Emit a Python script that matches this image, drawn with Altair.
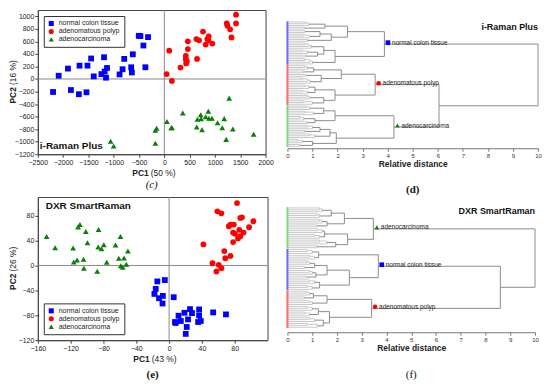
import altair as alt
import pandas as pd

GROUPS = ["normal colon tissue", "adenomatous polyp", "adenocarcinoma"]
COLORS = ["#0000ff", "#ff0000", "#0a800a"]
BAR_COLORS = ["#6a6aff", "#ff6a6a", "#7fd67f"]
SHAPES = ["square", "circle", "triangle-up"]

# ---- (c) i-Raman Plus PCA scores ----
C_N_X = [-2199, -2088, -1905, -1846, -1676, -1689, -1519, -1539, -1447, -1395, -1244, -1192, -1179,
         -1153, -1133, -885, -826, -793, -655, -642, -623, -505, -473, -414, -375, -322]
C_N_Y = [-207, 52, 166, -176, 213, -243, 213, -212, 327, 42, 78, 347, 119,
         21, 176, 73, 156, 321, 187, 104, 394, 689, 684, 534, 187, 668]
C_P_X = [44, 149, 96, 319, 424, 424, 431, 444, 464, 464, 633, 646, 686, 764, 817, 850, 876, 869,
         948, 1234, 1248, 1300, 1326, 1417, 1417]
C_P_Y = [78, -31, 451, 182, 368, 316, 249, 285, 477, 601, 637, 321, 617, 757, 549, 637, 679, 617,
         565, 886, 850, 793, 663, 1026, 886]
C_A_X = [-1061, -1002, -178, -152, -178, 51, 136, 149, 365, 640, 653, 719, 725, 745, 817, 869, 882,
         941, 1052, 1183, 1144, 1222, 1281, 1353, 1764]
C_A_Y = [-994, -1067, -818, -787, -1025, -678, -782, -772, -544, -766, -642, -570, -632, -808, -601,
         -513, -627, -627, -699, -632, -777, -963, -305, -798, -880]

# ---- (e) DXR SmartRaman PCA scores ----
E_N_X = [-14.3, -5.2, -16.3, -17.9, -12.3, -7.6, -8.0, 5.6, 7.2, 8.0, 11.5, 14.3, 18.7, 21.5, 23.1,
         20.3, 25.5, 27.9, 35.4, 36.6, 36.6, 38.6, 53.7, 69.3]
E_N_Y = [-25.6, -23.4, -37.6, -45.7, -52.6, -48.9, -61.1, -51.0, -90.8, -92.4, -80.7, -89.2, -76.0,
         -98.8, -86.6, -109.9, -70.1, -76.5, -90.8, -70.6, -80.2, -89.2, -75.4, -78.6]
E_P_X = [82.8, 58.9, 63.7, 88.8, 86.8, 102.7, 74.8, 78.8, 72.8, 97.5, 85.6, 78.0, 90.7, 80.4, 86.8,
         84.0, 78.0, 41.8, 67.3, 74.8, 68.5, 52.9, 60.5, 63.7, 57.7]
E_P_Y = [100.2, 86.9, 83.7, 77.3, 76.3, 71.0, 65.7, 65.7, 63.0, 61.4, 57.2, 52.9, 52.9, 50.8, 47.1,
         43.4, 37.6, 33.8, 23.2, 15.3, 11.6, 3.6, 1.0, -4.4, -9.7]
E_A_X = [-149.3, -138.9, -117.0, -116.2, -112.2, -104.3, -103.9, -108.7, -111.0, -101.5, -99.5, -86.0,
         -86.4, -82.4, -79.6, -76.0, -87.6, -65.3, -61.3, -59.3, -58.9, -56.5, -54.9, -52.1, -50.2]
E_A_Y = [46.6, 28.5, 28.0, 5.7, 8.9, 10.0, -4.3, 65.7, 62.0, 54.5, 36.5, 57.7, 29.6, 27.0, 33.3, 5.2,
         -9.1, 32.8, 11.6, 46.6, -0.6, -2.8, 12.1, 2.0, 23.2]

# ---- dendrograms: (height, child, child) = merge, [h1, h2, ...] = chained leaves ----
D_TREES = {
    "normal colon tissue": (3.87,
        (2.4, (1.5, [0.75, 0.85], [0.7]), (1.75, (1.3, [0.7], [0.65, 0.9]), [0.8])),
        (1.9, (1.45, [0.7, 0.85, 0.95], (1.2, [0.6, 0.8], [0.75])), [0.7, 0.9, 1.0])),
    "adenomatous polyp": (3.5,
        (2.15, (1.05, [0.7, 0.8], [0.65]), (1.35, [0.75], [0.6, 0.8, 0.9])),
        (1.9, (1.1, [0.7, 0.85], [0.6, 0.8]), (1.45, [0.8, 0.9], [0.65, 1.0]))),
    "adenocarcinoma": (4.25,
        (1.9, (1.45, [0.75, 0.9], [0.7, 1.05]), (1.1, [0.5, 0.65], [0.8])),
        (1.95, (1.7, (1.3, [0.8, 1.0], [0.7]), [0.9, 1.1]), (1.0, [0.4, 0.6], [0.5]))),
}
D_ROOT = (10.0, "normal colon tissue", (6.05, "adenomatous polyp", "adenocarcinoma"))

F_TREES = {
    "adenocarcinoma": (3.47,
        (2.3, (1.77, [1.3, 1.4], [1.2, 1.3]), (1.6, [1.3, 1.4], [1.2])),
        (2.43, (1.5, [1.2, 1.4], [1.1, 1.3]), (1.95, [1.3, 1.6], [1.2]))),
    "normal colon tissue": (3.67,
        (1.26, [0.8, 1.0], [0.9, 1.1]),
        (2.5, (1.6, (1.1, [0.8, 0.9], [0.7]), (1.15, [0.9, 1.0], [0.8])),
         (1.3, [0.9, 1.1], [0.8, 1.0]))),
    "adenomatous polyp": (3.4,
        (1.6, (1.05, [0.8, 0.9], [0.7]), [0.9, 1.0]),
        (1.7, (1.25, [0.8, 1.0], [0.7, 0.9]), (1.45, [0.9, 1.1], [0.8, 1.2]))),
}
F_ROOT = (10.0, "adenocarcinoma", (8.6, "normal colon tissue", "adenomatous polyp"))

FONT = "Liberation Sans"
ONE = pd.DataFrame({"a": [0]})


def scatter_df(nx, ny, px, py, ax, ay):
    rows = []
    for g, xs, ys in zip(GROUPS, [nx, px, ax], [ny, py, ay]):
        for x, y in zip(xs, ys):
            rows.append({"pc1": x, "pc2": y, "group": g})
    return pd.DataFrame(rows)


def scatter(df, xdom, xticks, ydom, yticks, W, H, lorient, pc1, pc2, inst, inst_xy, inst_align, caption,
            cap_style, cap_weight, cap_offset):
    xs = alt.Scale(domain=xdom, nice=False, zero=False)
    ys = alt.Scale(domain=ydom, nice=False, zero=False)
    ax_common = dict(title=None, labelFontSize=7, labelFont=FONT, tickSize=3, labelColor="#222",
                     domainColor="#444", tickColor="#444", grid=False, labelPadding=1,
                     labelOverlap=False, labelFlush=False, format="d")
    leg = alt.Legend(title=None, orient=lorient, offset=6, fillColor="white",
                     strokeColor="#333", padding=4, labelFontSize=7, labelFont=FONT,
                     symbolSize=26, rowPadding=0, labelColor="#222")
    zx = alt.Chart(ONE).mark_rule(color="#8a8a8a", strokeWidth=1).encode(
        x=alt.datum(0, scale=xs, axis=alt.Axis(values=xticks, **ax_common)))
    zy = alt.Chart(ONE).mark_rule(color="#8a8a8a", strokeWidth=1).encode(
        y=alt.datum(0, scale=ys, axis=alt.Axis(values=yticks, **ax_common)))
    pts = alt.Chart(df).mark_point(filled=True, size=34, opacity=1).encode(
        x=alt.X("pc1:Q", scale=xs, axis=alt.Axis(values=xticks, **ax_common)),
        y=alt.Y("pc2:Q", scale=ys, axis=alt.Axis(values=yticks, **ax_common)),
        color=alt.Color("group:N", scale=alt.Scale(domain=GROUPS, range=COLORS), legend=leg),
        shape=alt.Shape("group:N", scale=alt.Scale(domain=GROUPS, range=SHAPES), legend=leg),
    )
    t1 = alt.Chart(ONE).mark_text(text=pc1[0], fontWeight="bold", fontSize=8.5, font=FONT, align="right",
                                  baseline="middle", color="#222").encode(
        x=alt.value(W / 2 - 3), y=alt.value(H + 19))
    t2 = alt.Chart(ONE).mark_text(text=pc1[1], fontSize=8.5, font=FONT, align="left",
                                  baseline="middle", color="#222").encode(
        x=alt.value(W / 2 - 1), y=alt.value(H + 19))
    t3 = alt.Chart(ONE).mark_text(text=pc2[0], fontWeight="bold", fontSize=8.5, font=FONT, align="right",
                                  baseline="middle", angle=270, color="#222").encode(
        x=alt.value(-25), y=alt.value(H / 2 + 5))
    t4 = alt.Chart(ONE).mark_text(text=pc2[1], fontSize=8.5, font=FONT, align="left",
                                  baseline="middle", angle=270, color="#222").encode(
        x=alt.value(-25), y=alt.value(H / 2 + 3))
    t5 = alt.Chart(ONE).mark_text(text=inst, fontWeight="bold", fontSize=10, font=FONT, align=inst_align,
                                  baseline="middle", color="#111").encode(
        x=alt.value(inst_xy[0]), y=alt.value(inst_xy[1]))
    return alt.layer(zx, zy, pts, t1, t2, t3, t4, t5).properties(
        width=W, height=H,
        title=alt.TitleParams(caption, orient="bottom", font="Liberation Serif", fontSize=11,
                              fontStyle=cap_style, fontWeight=cap_weight, offset=cap_offset, color="#111"),
        view=alt.ViewBackground(stroke="#444"),
    )


def build_dendro(root, trees):
    leaves, segs, nodes = [], [], {}

    def walk(node, group):
        if isinstance(node, str):
            res = walk(trees[node], node)
            nodes[node] = res
            return res
        if isinstance(node, list):
            leaves.append(group)
            prev = (0.0, len(leaves) - 1)
            for h in node:
                leaves.append(group)
                ly = len(leaves) - 1
                segs.append((prev[0], h, prev[1], prev[1], "#c9c9c9"))
                segs.append((0.0, h, ly, ly, "#c9c9c9"))
                segs.append((h, h, prev[1], ly, "#c9c9c9"))
                prev = (h, (prev[1] + ly) / 2)
            return prev
        h, a, b = node
        ra = walk(a, group)
        rb = walk(b, group)
        segs.append((ra[0], h, ra[1], ra[1], "#8c8c8c"))
        segs.append((rb[0], h, rb[1], rb[1], "#8c8c8c"))
        segs.append((h, h, ra[1], rb[1], "#8c8c8c"))
        return (h, (ra[1] + rb[1]) / 2)

    walk(root, None)
    return leaves, segs, nodes


def dendro(root, trees, W, H, lead_top, lead_bot, title_text, title_y, caption, cap_weight, cap_offset):
    leaves, segs, nodes = build_dendro(root, trees)
    n = len(leaves)
    step = (lead_bot - lead_top) / (n - 1)
    ys = alt.Scale(domain=[-lead_top / step, (n - 1) + (H - lead_bot) / step], reverse=True, nice=False,
                   zero=False)
    xs = alt.Scale(domain=[0, 10], nice=False, zero=False)
    xaxis = alt.Axis(values=list(range(11)), title="Relative distance",
                     titleFontWeight="bold", titleFontSize=8.5, titleFont=FONT,
                     labelFontSize=6, labelFont=FONT, tickSize=3,
                     labelPadding=1, titlePadding=1, domainColor="#777",
                     tickColor="#777", labelColor="#333", titleColor="#222",
                     grid=False, labelOverlap=False, labelFlush=False)
    seg_df = pd.DataFrame(segs, columns=["x", "x2", "y", "y2", "col"])
    bars = []
    for g, c in zip(GROUPS, BAR_COLORS):
        idx = [i for i, lg in enumerate(leaves) if lg == g]
        bars.append({"x": 0, "y": min(idx) - 0.4, "y2": max(idx) + 0.4, "col": c})
    bar_df = pd.DataFrame(bars)
    lab = []
    for g, c, s in zip(GROUPS, COLORS, SHAPES):
        h, y = nodes[g]
        lab.append({"x": h + 0.14, "y": y - 0.8, "col": c, "shape": s, "text": g})
    lab_df = pd.DataFrame(lab)

    lines = alt.Chart(seg_df).mark_rule(strokeWidth=1).encode(
        x=alt.X("x:Q", scale=xs, axis=xaxis),
        x2="x2:Q",
        y=alt.Y("y:Q", scale=ys, axis=None),
        y2="y2:Q",
        color=alt.Color("col:N", scale=None, legend=None),
    )
    barl = alt.Chart(bar_df).mark_rule(strokeWidth=2).encode(
        x=alt.X("x:Q", axis=xaxis), y=alt.Y("y:Q", axis=None), y2="y2:Q",
        color=alt.Color("col:N", scale=None, legend=None))
    mk = alt.Chart(lab_df).mark_point(filled=True, size=22, opacity=1).encode(
        x=alt.X("x:Q", axis=xaxis), y=alt.Y("y:Q", axis=None), color=alt.Color("col:N", scale=None, legend=None),
        shape=alt.Shape("shape:N", scale=None, legend=None))
    tx = alt.Chart(lab_df).mark_text(align="left", baseline="middle", dx=4, fontSize=6.5, font=FONT,
                                     color="#222").encode(x=alt.X("x:Q", axis=xaxis),
                                                          y=alt.Y("y:Q", axis=None), text="text:N")
    tt = alt.Chart(ONE).mark_text(text=title_text, fontWeight="bold", fontSize=9, font=FONT, align="right",
                                  baseline="middle", color="#111").encode(
        x=alt.value(W), y=alt.value(title_y))
    return alt.layer(lines, barl, mk, tx, tt).properties(
        width=W, height=H,
        title=alt.TitleParams(caption, orient="bottom", font="Liberation Serif", fontSize=11,
                              fontWeight=cap_weight, offset=cap_offset, color="#111"),
        view=alt.ViewBackground(stroke="transparent"),
    )


df_c = scatter_df(C_N_X, C_N_Y, C_P_X, C_P_Y, C_A_X, C_A_Y)
df_e = scatter_df(E_N_X, E_N_Y, E_P_X, E_P_Y, E_A_X, E_A_Y)

c = scatter(df_c, [-2500, 2000], list(range(-2500, 2001, 500)), [-1200, 1100],
            list(range(-1200, 1001, 200)), 229, 145, "top-left", ("PC1", "(50 %)"), ("PC2", "(16 %)"),
            "i-Raman Plus", (2, 137), "left", "(c)", "italic", "normal", 1)
e = scatter(df_e, [-160, 120], list(range(-160, 81, 40)), [-120, 110], list(range(-120, 81, 40)),
            231, 144, "bottom-left", ("PC1", "(43 %)"), ("PC2", "(26 %)"),
            "DXR SmartRaman", (8, 9), "left", "(e)", "normal", "bold", 6)
d = dendro(D_ROOT, D_TREES, 252, 139, 12, 137, "i-Raman Plus", 17, "(d)", "bold", 16)
f = dendro(F_ROOT, F_TREES, 249, 132, 7, 127, "DXR SmartRaman", 10, "(f)", "normal", 18)

left = alt.vconcat(c, e, spacing=6)
right = alt.vconcat(d, f, spacing=5)
chart = alt.hconcat(left, right, spacing=10).properties(padding=0).configure_view(
    stroke="#444").configure_legend(symbolStrokeWidth=0).configure_axis(labelOverlap=False)

chart.save("out.html", embed_options={"renderer": "svg", "actions": False})
